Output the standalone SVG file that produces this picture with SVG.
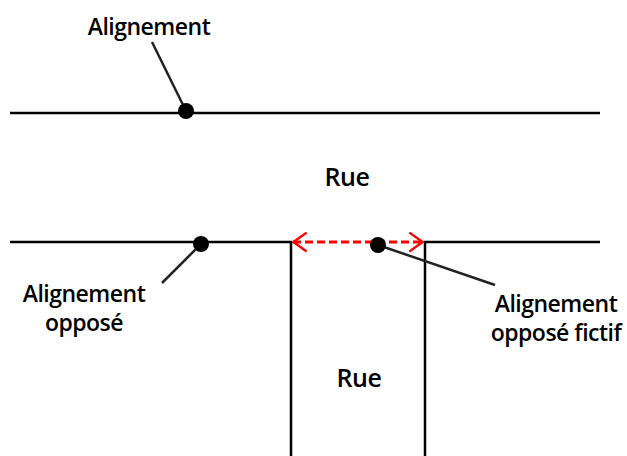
<svg xmlns="http://www.w3.org/2000/svg" width="627" height="456" viewBox="0 0 627 456">
<style>
.ln{stroke:#000;stroke-width:2.5;fill:none}
.ld{stroke:#222;stroke-width:2.5;fill:none}
.dot{fill:#000}
.t{font-family:"Open Sans","DejaVu Sans",sans-serif;font-weight:600;font-size:23px;fill:#000;text-anchor:middle;letter-spacing:-0.5px}
.red{stroke:#ff0000;stroke-width:3;fill:none;stroke-dasharray:8,4}
</style>
<defs>
<marker id="ah" viewBox="0 0 10 10" refX="9.5" refY="5" markerWidth="7" markerHeight="7" orient="auto-start-reverse" markerUnits="strokeWidth">
<path d="M3,0.5 L9.3,5 L3,9.5" fill="none" stroke="#ff0000" stroke-width="1.1"/>
</marker>
</defs>
<g id="connectors">
<line class="ln" x1="10" y1="113" x2="600" y2="113"/>
<polyline class="ln" points="10,242 291,242 291,456"/>
<polyline class="ln" points="425,456 425,242 600,242"/>
<line class="ld" x1="152" y1="42" x2="186" y2="111"/>
<line class="ld" x1="201" y1="244" x2="162" y2="283"/>
<line class="ld" x1="378" y1="245" x2="495" y2="285"/>
<line class="red" x1="293" y1="242" x2="423" y2="242" marker-start="url(#ah)" marker-end="url(#ah)"/>
</g>
<g id="alignement">
<circle class="dot" cx="186" cy="111" r="8"/>
<text class="t" x="149" y="35">Alignement</text>
</g>
<g id="alignement-oppose">
<circle class="dot" cx="201" cy="244" r="8"/>
<text class="t" x="84" y="302">Alignement</text>
<text class="t" x="84" y="331">opposé</text>
</g>
<g id="alignement-oppose-fictif">
<circle class="dot" cx="378" cy="245" r="8"/>
<text class="t" x="556" y="312">Alignement</text>
<text class="t" x="556" y="341">opposé fictif</text>
</g>
<g id="rue1"><text class="t" x="347" y="186" style="font-size:25px">Rue</text></g>
<g id="rue2"><text class="t" x="359" y="387" style="font-size:25px">Rue</text></g>
</svg>
